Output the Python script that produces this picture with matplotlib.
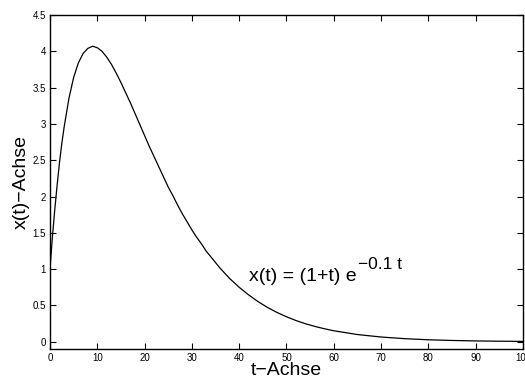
import matplotlib
matplotlib.use("Agg")
import matplotlib.pyplot as plt

plt.rcParams['font.family'] = ['Liberation Sans', 'DejaVu Sans']

# curve samples
t_vals = [0, 0.25, 0.5, 0.75, 1, 1.5, 2, 2.5, 3, 4, 5, 6, 7, 8, 9, 10,
          11, 12, 13, 14, 15, 16, 17, 18, 19, 20,
          21, 22, 23, 24, 25, 26, 27, 28, 29, 30,
          31, 32, 33, 34, 35, 36, 37, 38, 39, 40,
          42, 44, 46, 48, 50, 52, 54, 56, 58, 60,
          65, 70, 75, 80, 85, 90, 95, 100]
x_vals = [1.00, 1.22, 1.43, 1.62, 1.81, 2.15, 2.46, 2.73, 2.96, 3.35, 3.64, 3.84, 3.97, 4.04, 4.07, 4.05,
          4.00, 3.92, 3.82, 3.70, 3.57, 3.43, 3.29, 3.14, 2.99, 2.84,
          2.69, 2.55, 2.41, 2.27, 2.13, 2.01, 1.88, 1.76, 1.65, 1.54,
          1.44, 1.35, 1.25, 1.17, 1.09, 1.01, 0.94, 0.87, 0.81, 0.75,
          0.645, 0.552, 0.472, 0.403, 0.344, 0.292, 0.248, 0.211, 0.179, 0.151,
          0.099, 0.065, 0.042, 0.027, 0.0175, 0.011, 0.0072, 0.0046]

x_ticks = [0, 10, 20, 30, 40, 50, 60, 70, 80, 90, 100]
y_ticks = [0, 0.5, 1, 1.5, 2, 2.5, 3, 3.5, 4, 4.5]
y_tick_labels = ['0', '0.5', '1', '1.5', '2', '2.5', '3', '3.5', '4', '4.5']

fig = plt.figure(figsize=(5.25, 3.83), dpi=100)
ax = fig.add_axes([0.0952, 0.0888, 0.9010, 0.8720])

ax.plot(t_vals, x_vals, color='black', linewidth=0.9)

ax.set_xlim(0, 100)
ax.set_ylim(-0.1, 4.5)
ax.set_xticks(x_ticks)
ax.set_yticks(y_ticks)
ax.set_yticklabels(y_tick_labels)
ax.tick_params(direction='in', top=True, right=True, labelsize=7, length=4, width=0.8, pad=3)
for s in ax.spines.values():
    s.set_linewidth(1.0)

ax.set_xlabel('t\u2212Achse', fontsize=14, labelpad=-1)
ax.set_ylabel('x(t)\u2212Achse', fontsize=14, labelpad=2)

# formula label, exponent as a separate raised text
main = ax.text(42, 0.83, 'x(t) = (1+t) e', fontsize=14, va='baseline')
ax.annotate('\u22120.1 t', xy=(1, 0), xycoords=main, xytext=(1.5, 11.5),
            textcoords='offset points', fontsize=12.5, va='baseline')

fig.savefig('out.png', dpi=100)
